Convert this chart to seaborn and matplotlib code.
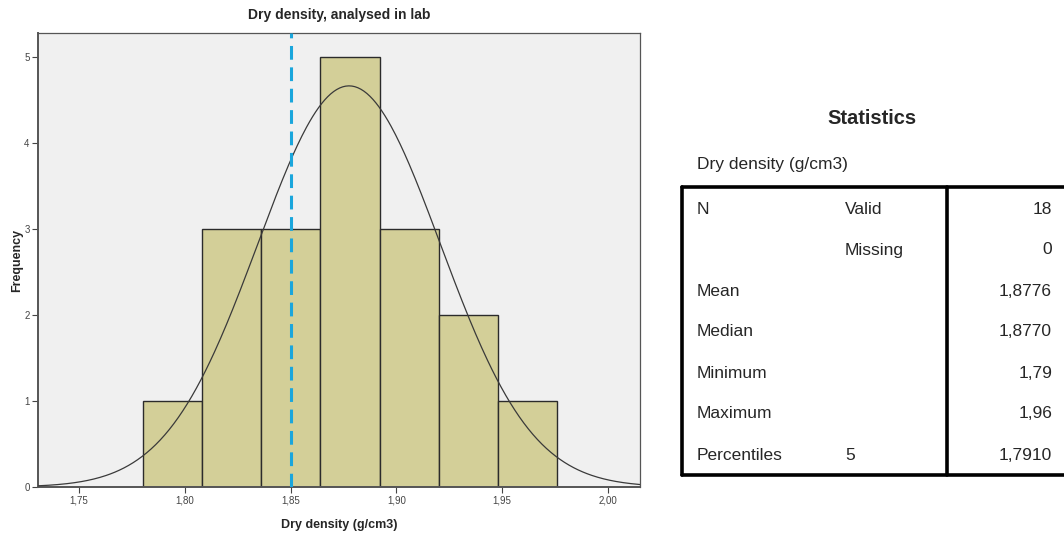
import numpy as np
import pandas as pd
import matplotlib
matplotlib.use("Agg")
import matplotlib.pyplot as plt
from matplotlib.lines import Line2D
import seaborn as sns

# Histogram bins (g/cm3) and frequencies
bin_edges = [1.780, 1.808, 1.836, 1.864, 1.892, 1.920, 1.948, 1.976]
counts = [1, 3, 3, 5, 3, 2, 1]

# Summary statistics
n_valid = 18
n_missing = 0
mean_val = 1.8776
median_val = 1.8770
min_val = 1.79
max_val = 1.96
p5_val = 1.7910
std_val = 0.0431
ref_line = 1.85

stat_labels = ["N", "", "Mean", "Median", "Minimum", "Maximum", "Percentiles"]
stat_sub = ["Valid", "Missing", "", "", "", "", "5"]
stat_values = ["18", "0", "1,8776", "1,8770", "1,79", "1,96", "1,7910"]

x_ticks = [1.75, 1.80, 1.85, 1.90, 1.95, 2.00]
y_ticks = [0, 1, 2, 3, 4, 5]

sns.set_style("white")
plt.rcParams["font.family"] = ["Liberation Sans", "DejaVu Sans"]

W, H = 1064, 538
fig = plt.figure(figsize=(W / 100, H / 100), dpi=100)
ax = fig.add_axes([38 / W, 1 - 487 / H, (640 - 38) / W, (487 - 33) / H])
ax.set_facecolor("#f0f0f0")

centers = [(a + b) / 2 for a, b in zip(bin_edges[:-1], bin_edges[1:])]
df = pd.DataFrame({"density": centers, "freq": counts})
sns.histplot(data=df, x="density", weights="freq", bins=bin_edges, ax=ax,
             color="#d3cf98", alpha=1.0, edgecolor="#2b2b2b", linewidth=1.0,
             zorder=2)

# Fitted normal curve scaled to the histogram
bw = bin_edges[1] - bin_edges[0]
xs = np.linspace(1.7306, 2.0151, 400)
ys = n_valid * bw / (std_val * np.sqrt(2 * np.pi)) * np.exp(-0.5 * ((xs - mean_val) / std_val) ** 2)
sns.lineplot(x=xs, y=ys, ax=ax, color="#3a3a3a", linewidth=0.9, zorder=3)

ax.axvline(ref_line, color="#1aa6dc", linestyle=(0, (4.5, 2.5)), linewidth=2.2, zorder=4)

ax.set_xlim(1.7306, 2.0151)
ax.set_ylim(0, 5.28)
ax.set_xticks(x_ticks)
ax.set_xticklabels([f"{t:.2f}".replace(".", ",") for t in x_ticks])
ax.set_yticks(y_ticks)
ax.set_yticklabels([str(t) for t in y_ticks])
ax.tick_params(axis="both", direction="out", length=4, width=0.8, color="#444444",
               labelsize=7, labelcolor="#444444", pad=2)
ax.tick_params(axis="both", which="both", bottom=True, left=True)
for s in ax.spines.values():
    s.set_color("#555555")
    s.set_linewidth(0.9)
ax.spines["bottom"].set_linewidth(1.4)
ax.spines["left"].set_linewidth(1.4)

ax.set_xlabel("Dry density (g/cm3)", fontsize=9, fontweight="bold", labelpad=10)
ax.set_ylabel("Frequency", fontsize=9, fontweight="bold", labelpad=1)
ax.set_title("Dry density, analysed in lab", fontsize=10, fontweight="bold", pad=10)

# Statistics table
def fx(px):
    return px / W

def fy(py):
    return 1 - py / H

fig.text(fx(872), fy(119), "Statistics", fontsize=14.5, fontweight="bold",
         ha="center", va="center")
fig.text(fx(697), fy(165), "Dry density (g/cm3)", fontsize=12.5, ha="left", va="center")

lw = 2.6
box_l, box_r, box_t, box_b, div = 682, 1066, 187, 475, 947
fig.add_artist(Line2D([fx(box_l), fx(box_r)], [fy(box_t), fy(box_t)], color="black", lw=lw))
fig.add_artist(Line2D([fx(box_l), fx(box_r)], [fy(box_b), fy(box_b)], color="black", lw=lw))
fig.add_artist(Line2D([fx(box_l), fx(box_l)], [fy(box_t), fy(box_b)], color="black", lw=lw))
fig.add_artist(Line2D([fx(div), fx(div)], [fy(box_t), fy(box_b)], color="black", lw=lw))

row_y = [210, 250, 292, 332, 373, 413, 455]
for lab, sub, val, yy in zip(stat_labels, stat_sub, stat_values, row_y):
    fig.text(fx(697), fy(yy), lab, fontsize=12.5, ha="left", va="center")
    fig.text(fx(845), fy(yy), sub, fontsize=12.5, ha="left", va="center")
    fig.text(fx(1052), fy(yy), val, fontsize=12.5, ha="right", va="center")

fig.savefig("out.png", dpi=100, facecolor="white")
